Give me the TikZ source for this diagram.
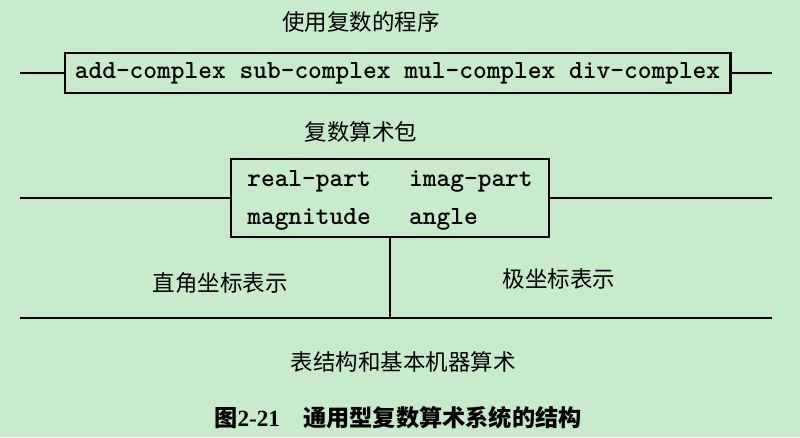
\documentclass[tikz,border=0pt]{standalone}
\usepackage{fontspec}
\setmainfont{Liberation Serif}
\newfontfamily\cjk{Noto Sans CJK SC}
\usetikzlibrary{positioning}
\tikzset{>=latex}
\definecolor{paper}{RGB}{200,236,203}
\tikzset{
  levelbox/.style={draw, line width=2pt, inner sep=0pt},
  barrier/.style={line width=1.6pt},
  cjktext/.style={font=\cjk\fontsize{16}{16}\selectfont},
  codetext/.style={font=\ttfamily\bfseries\fontsize{18.6}{27}\selectfont},
}

\begin{document}
\begin{tikzpicture}[x=0.025cm, y=-0.025cm]
  \fill[paper] (0,0) rectangle (800,437);
  \useasboundingbox (0,0) rectangle (800,437);

  % programs that use complex numbers
  \node[cjktext] (progs) at (361,22) {使用复数的程序};
  \node[levelbox, codetext, minimum width=16.625cm, minimum height=1cm] (cplx) at (397.5,73) {add-complex sub-complex mul-complex div-complex};
  \coordinate (l1) at (20,73);
  \coordinate (r1) at (772,73);
  \draw[barrier] (l1) -- (cplx);
  \draw[barrier] (cplx) -- (r1);

  % complex arithmetic package
  \node[cjktext] (pkg) at (361,132) {复数算术包};
  \node[levelbox, codetext, minimum width=7.95cm, minimum height=1.95cm] (sel) at (390,198)
    {\begin{tabular}{@{}l@{\hspace{0.956cm}}l@{}}real-part & imag-part\\ magnitude & angle\end{tabular}};
  \coordinate (l2) at (20,198);
  \coordinate (r2) at (772,198);
  \draw[barrier] (l2) -- (sel);
  \draw[barrier] (sel) -- (r2);

  % two representations
  \coordinate (l3) at (20,318);
  \coordinate (r3) at (772,318);
  \draw[barrier] (l3) -- (r3);
  \draw[barrier] (sel.south) -- (sel.south |- l3);
  \node[cjktext] (rect) at (220,283) {直角坐标表示};
  \node[cjktext] (polar) at (559,279) {极坐标表示};

  % bottom level and caption
  \node[cjktext] (prim) at (403,362) {表结构和基本机器算术};
  \node[cjktext, font=\cjk\bfseries\fontsize{16.5}{16.5}\selectfont] (fig) at (398,418) {图{\rmfamily 2-21}\quad 通用型复数算术系统的结构};
\end{tikzpicture}
\end{document}
